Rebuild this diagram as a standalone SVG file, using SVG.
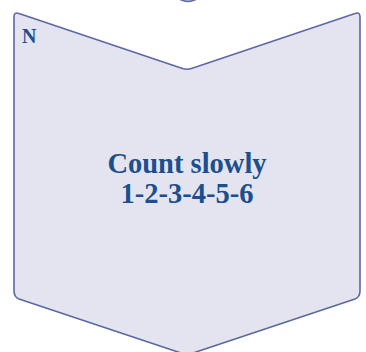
<svg xmlns="http://www.w3.org/2000/svg" width="366" height="352" viewBox="0 0 366 352">
  <style>
    .shape { fill: #e4e4f0; stroke: #5b68a3; stroke-width: 1.6; stroke-linejoin: round; }
    .label { font-family: "Liberation Serif", "Times New Roman", serif; font-weight: bold; fill: #1b4f8e; }
  </style>
  <rect width="366" height="352" fill="#ffffff"/>
  <g id="prev-node">
    <path class="shape" d="M160,-8 L183,0.5 Q188,2.2 193,0.5 L216,-8"/>
  </g>
  <g id="node-count">
    <path class="shape" d="M14,17 Q14,11.5 19,13.5 L182.5,68.5 Q187,70 191.5,68.5 L355,13.5 Q360,11.5 360,17 L360,291 Q360,297 355,299 L191.5,353.5 Q187,355 182.5,353.5 L19,299 Q14,297 14,291 Z"/>
    <text class="label" x="22" y="43" font-size="20">N</text>
    <text class="label" x="187" y="173" font-size="28.5" text-anchor="middle">Count slowly</text>
    <text class="label" x="187" y="203" font-size="28.5" text-anchor="middle">1-2-3-4-5-6</text>
  </g>
  <g id="connectors"/>
</svg>
